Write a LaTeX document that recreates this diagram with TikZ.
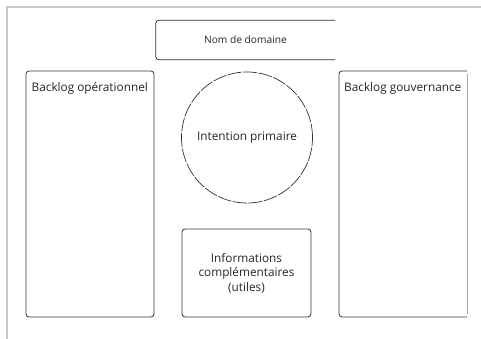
\documentclass[tikz,border=0pt]{standalone}
\usepackage{fontspec}
\setmainfont{Open Sans}
\begin{document}
\begin{tikzpicture}[x=1pt,y=-1pt,
  box/.style={draw=black!80,line width=0.8pt,rounded corners=3pt},
  lbl/.style={font=\fontsize{11.8}{14.5}\selectfont,text=black!85},
  frame/.style={draw=black!22,line width=2.5pt}]
\useasboundingbox (0,0) rectangle (481,339);
\fill[white] (0,0) rectangle (481,339);
\draw[frame] (481,7) -- (7,7) -- (7,339);
% Nom de domaine
\node[lbl,font=\fontsize{10.2}{12}\selectfont,minimum width=179pt,minimum height=39pt,inner sep=0pt] (nom) at (245.5,40) {Nom de domaine};
\draw[box] (nom.north east) -- (nom.north west) -- (nom.south west) -- (nom.south east);
% Backlog operationnel
\draw[box] (26,71) rectangle (154,317);
\node[lbl,anchor=base west,inner sep=0pt] (bo) at (31.5,91.7) {Backlog opérationnel};
% Backlog gouvernance
\draw[box] (467,317) -- (339,317) -- (339,71) -- (467,71);
\draw[draw=black!35,line width=0.8pt] (467,74) -- (467,314);
\node[lbl,anchor=base west,inner sep=0pt] (bg) at (344,91.7) {Backlog gouvernance};
% Intention primaire
\node[lbl,circle,draw=black!80,line width=0.7pt,dash pattern=on 14pt off 1.5pt,minimum size=131pt,inner sep=0pt] (ip) at (247,137.5) {Intention primaire};
% Informations
\node[lbl,box,align=center,minimum width=129pt,minimum height=88pt] (inf) at (246.5,273) {Informations\\complémentaires\\(utiles)};
\end{tikzpicture}
\end{document}
